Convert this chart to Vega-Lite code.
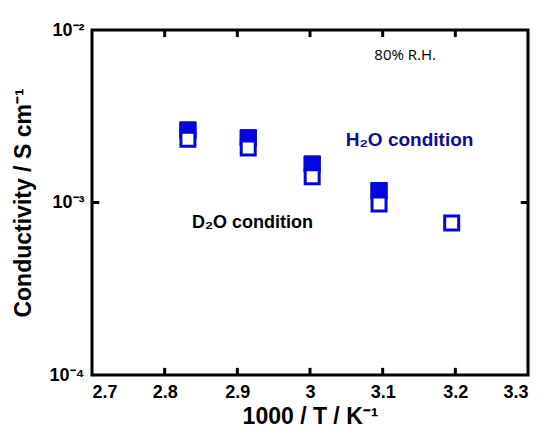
{
  "$schema": "https://vega.github.io/schema/vega-lite/v6.json",
  "autosize": "none",
  "width": 436,
  "height": 345,
  "padding": {"left": 92, "top": 30, "right": 14, "bottom": 58},
  "background": "white",
  "config": {
    "view": {"stroke": "black", "strokeWidth": 3},
    "axis": {"ticks": false, "domain": false, "grid": false}
  },
  "datasets": {
    "pts": [
      {"x": 2.832, "y": 0.00263, "cond": "H2O"},
      {"x": 2.915, "y": 0.00237, "cond": "H2O"},
      {"x": 3.003, "y": 0.00167, "cond": "H2O"},
      {"x": 3.095, "y": 0.00117, "cond": "H2O"},
      {"x": 2.832, "y": 0.00233, "cond": "D2O"},
      {"x": 2.915, "y": 0.00207, "cond": "D2O"},
      {"x": 3.003, "y": 0.00141, "cond": "D2O"},
      {"x": 3.095, "y": 0.00098, "cond": "D2O"},
      {"x": 3.195, "y": 0.00076, "cond": "D2O"}
    ],
    "annot": [
      {"x": 3.131, "y": 0.00716, "label": "80% R.H.", "kind": "rh"},
      {"x": 3.137, "y": 0.0023, "label": "H₂O condition", "kind": "h2o"},
      {"x": 2.921, "y": 0.00076, "label": "D₂O condition", "kind": "d2o"}
    ],
    "frameticks": [
      {"tx": 2.8, "tx2": 2.8, "ty": 0.0001, "ty2": 0.00011},
      {"tx": 2.9, "tx2": 2.9, "ty": 0.0001, "ty2": 0.00011},
      {"tx": 3.0, "tx2": 3.0, "ty": 0.0001, "ty2": 0.00011},
      {"tx": 3.1, "tx2": 3.1, "ty": 0.0001, "ty2": 0.00011},
      {"tx": 3.2, "tx2": 3.2, "ty": 0.0001, "ty2": 0.00011},
      {"tx": 2.8, "tx2": 2.8, "ty": 0.01, "ty2": 0.0091},
      {"tx": 2.9, "tx2": 2.9, "ty": 0.01, "ty2": 0.0091},
      {"tx": 3.0, "tx2": 3.0, "ty": 0.01, "ty2": 0.0091},
      {"tx": 3.1, "tx2": 3.1, "ty": 0.01, "ty2": 0.0091},
      {"tx": 3.2, "tx2": 3.2, "ty": 0.01, "ty2": 0.0091},
      {"tx": 2.7, "tx2": 2.71, "ty": 0.001, "ty2": 0.001},
      {"tx": 3.29, "tx2": 3.3, "ty": 0.001, "ty2": 0.001}
    ]
  },
  "resolve": {"axis": {"x": "independent", "y": "independent"}},
  "layer": [
    {
      "data": {"name": "pts"},
      "transform": [{"filter": "datum.cond === 'H2O'"}],
      "mark": {"type": "square", "size": 270, "fill": "#0505e0", "opacity": 1, "stroke": "#0505e0", "strokeWidth": 1},
      "encoding": {
        "x": {"field": "x", "type": "quantitative",
          "scale": {"domain": [2.7, 3.3], "nice": false, "zero": false},
          "axis": {"orient": "bottom", "values": [2.7, 2.8, 2.9, 3.0, 3.1, 3.2, 3.3], "format": "~g",
            "labelFont": "Liberation Sans", "labelFontWeight": "bold", "labelFontSize": 18, "labelColor": "black", "labelPadding": 8,
            "title": "1000 / T / K⁻¹", "titleFont": "Liberation Sans", "titleFontWeight": "bold", "titleFontSize": 23, "titleColor": "black", "titlePadding": 4}},
        "y": {"field": "y", "type": "quantitative",
          "scale": {"type": "log", "domain": [0.0001, 0.01], "nice": false},
          "axis": {"orient": "left", "values": [0.0001, 0.001, 0.01],
            "labelFont": "Liberation Sans", "labelFontWeight": "bold", "labelFontSize": 18, "labelColor": "black", "labelPadding": 8,
            "labelExpr": "datum.value < 0.0005 ? '10⁻⁴' : datum.value < 0.005 ? '10⁻³' : '10⁻²'",
            "title": "Conductivity / S cm⁻¹", "titleFont": "Liberation Sans", "titleFontWeight": "bold", "titleFontSize": 23, "titleColor": "black", "titlePadding": 14}}
      }
    },
    {
      "data": {"name": "pts"},
      "transform": [{"filter": "datum.cond === 'D2O'"}],
      "mark": {"type": "square", "size": 196, "fill": "white", "opacity": 1, "stroke": "#0505e0", "strokeWidth": 3},
      "encoding": {
        "x": {"field": "x", "type": "quantitative", "axis": null},
        "y": {"field": "y", "type": "quantitative", "axis": null}
      }
    },
    {
      "data": {"name": "frameticks"},
      "mark": {"type": "rule", "stroke": "black", "strokeWidth": 3, "opacity": 1},
      "encoding": {
        "x": {"field": "tx", "type": "quantitative", "axis": null},
        "x2": {"field": "tx2"},
        "y": {"field": "ty", "type": "quantitative", "axis": null},
        "y2": {"field": "ty2"}
      }
    },
    {
      "data": {"name": "annot"},
      "transform": [{"filter": "datum.kind === 'rh'"}],
      "mark": {"type": "text", "font": "Open Sans", "fontSize": 15, "color": "black"},
      "encoding": {
        "x": {"field": "x", "type": "quantitative", "axis": null},
        "y": {"field": "y", "type": "quantitative", "axis": null},
        "text": {"field": "label"}
      }
    },
    {
      "data": {"name": "annot"},
      "transform": [{"filter": "datum.kind === 'h2o'"}],
      "mark": {"type": "text", "font": "Liberation Sans", "fontWeight": "bold", "fontSize": 19, "color": "#0d0d99"},
      "encoding": {
        "x": {"field": "x", "type": "quantitative", "axis": null},
        "y": {"field": "y", "type": "quantitative", "axis": null},
        "text": {"field": "label"}
      }
    },
    {
      "data": {"name": "annot"},
      "transform": [{"filter": "datum.kind === 'd2o'"}],
      "mark": {"type": "text", "font": "Liberation Sans", "fontWeight": "bold", "fontSize": 18, "color": "black"},
      "encoding": {
        "x": {"field": "x", "type": "quantitative", "axis": null},
        "y": {"field": "y", "type": "quantitative", "axis": null},
        "text": {"field": "label"}
      }
    }
  ]
}
